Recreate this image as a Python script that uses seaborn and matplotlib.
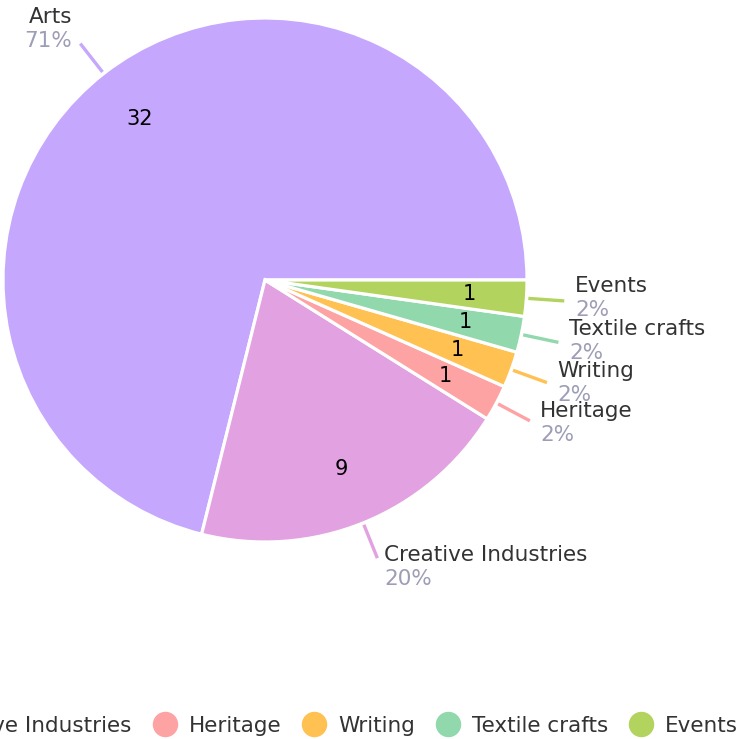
import numpy as np
import matplotlib
matplotlib.use("Agg")
import matplotlib.pyplot as plt
import seaborn as sns
from matplotlib.lines import Line2D

categories = ["Arts", "Creative Industries", "Heritage", "Writing", "Textile crafts", "Events"]
counts = [32, 9, 1, 1, 1, 1]
colors = ["#c5a7fd", "#e2a1e1", "#fda3a4", "#fec152", "#91d8ac", "#b2d35e"]

sns.set_theme(style="white")
plt.rcParams["font.family"] = ["DejaVu Sans"]
palette = sns.color_palette(colors)

W, H = 740, 739
fig = plt.figure(figsize=(W / 100, H / 100), dpi=100)
ax = fig.add_axes([0, 0, 1, 1])

cx, cy, R = 265, H - 280, 262
total = sum(counts)

wedges, texts, autotexts = ax.pie(
    counts, colors=palette, startangle=0, counterclock=True,
    center=(cx, cy), radius=R, frame=True,
    autopct=lambda p: f"{int(round(p * total / 100))}", pctdistance=0.78,
    wedgeprops=dict(edgecolor="white", linewidth=2.3),
    textprops=dict(fontsize=15, color="black"),
)

name_color = "#333333"
pct_color = "#9d9db6"
for w, cat, val, col in zip(wedges, categories, counts, palette):
    th = np.deg2rad((w.theta1 + w.theta2) / 2)
    c, s = np.cos(th), np.sin(th)
    x1, y1 = cx + (R + 2) * c, cy + (R + 2) * s
    x2, y2 = cx + (R + 38) * c, cy + (R + 38) * s
    ax.plot([x1, x2], [y1, y2], color=col, lw=2.4, solid_capstyle="butt")
    dx = 4 + 7 * abs(c)
    tx = x2 + dx if c >= 0 else x2 - dx
    ha = "left" if c >= 0 else "right"
    bc = y2 + 9 + 14 * s
    ax.text(tx, bc + 1, cat, ha=ha, va="baseline", fontsize=15.5, color=name_color)
    ax.text(tx, bc - 23, f"{round(val / total * 100)}%", ha=ha, va="baseline",
            fontsize=15.5, color=pct_color)

fs = 15.5
fs_px = fs * 100 / 72
handles = [Line2D([0], [0], marker="o", linestyle="", markersize=17.3,
                  markerfacecolor=col, markeredgecolor=col) for col in palette]
ax.legend(handles, categories, loc="center", bbox_to_anchor=(cx, 13),
          bbox_transform=ax.transData, ncol=6, frameon=False, fontsize=fs,
          handlelength=24 / fs_px, handletextpad=12 / fs_px, columnspacing=21 / fs_px,
          labelcolor=name_color, borderpad=0, borderaxespad=0)

ax.set_xlim(0, W)
ax.set_ylim(0, H)
ax.set_axis_off()
fig.savefig("out.png", dpi=100)
